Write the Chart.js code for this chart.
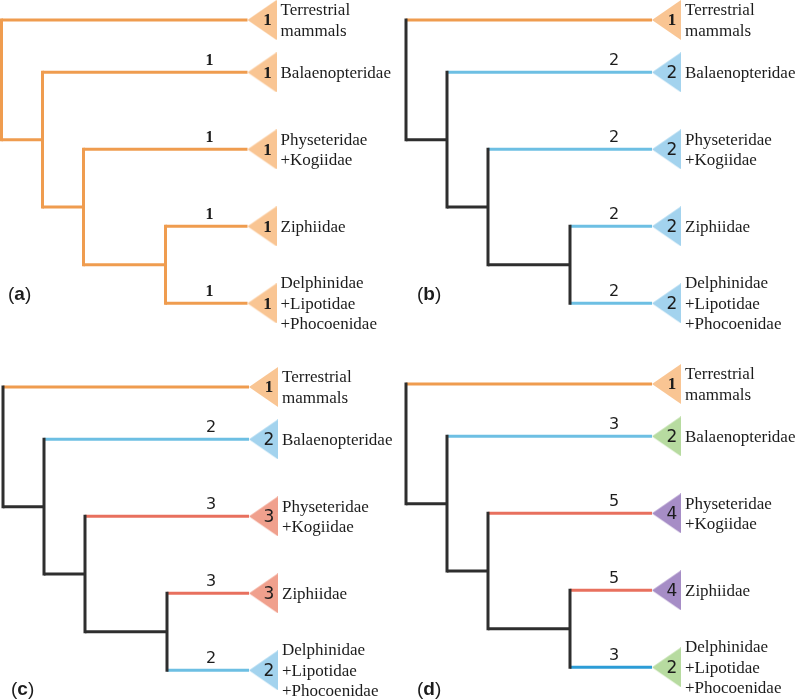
<!DOCTYPE html>
<html>
<head>
<meta charset="utf-8">
<script src="https://cdn.jsdelivr.net/npm/chart.js@4.4.1/dist/chart.umd.min.js"></script>
<style>
  body { margin: 0; background: #fff; }
  #wrap { position: relative; width: 800px; height: 699px; }
  #wrap canvas { position: absolute; }
</style>
</head>
<body>
<div id="wrap">
  <canvas id="pa" width="400" height="349" style="left:0;top:0"></canvas>
  <canvas id="pb" width="400" height="349" style="left:400px;top:0"></canvas>
  <canvas id="pc" width="400" height="350" style="left:0;top:349px"></canvas>
  <canvas id="pd" width="400" height="350" style="left:400px;top:349px"></canvas>
</div>
<script>
// --- data ---
const taxa = [
  ['Terrestrial', 'mammals'],
  ['Balaenopteridae'],
  ['Physeteridae', '+Kogiidae'],
  ['Ziphiidae'],
  ['Delphinidae', '+Lipotidae', '+Phocoenidae']
];
const leafPos   = [0, 0.68, 1.68, 2.68, 3.68];   // leaf rows
const leafDepth = 6;
// internal nodes (root first): depth and children (number = leaf, 'nK' = node K)
const nodeDepths   = [0, 1, 2, 4];
const nodeChildren = [[0, 'n1'], [1, 'n2'], [2, 'n3'], [3, 4]];

const panelTags    = ['a', 'b', 'c', 'd'];
const tipCounts    = [[1, 1, 1, 1, 1], [1, 2, 2, 2, 2], [1, 2, 3, 3, 2], [1, 2, 4, 4, 2]];
const branchLabels = [[null, 1, 1, 1, 1], [null, 2, 2, 2, 2], [null, 2, 3, 3, 2], [null, 3, 5, 5, 3]];

// colour states: o orange, b blue, r red, g green, p purple, k black
const edgeState  = [['o','o','o','o','o'], ['o','b','b','b','b'], ['o','b','r','r','b'], ['o','b','r','r','B']];
const tipState   = [['o','o','o','o','o'], ['o','b','b','b','b'], ['o','b','r','r','b'], ['o','g','p','p','g']];
const innerState = ['o', 'k', 'k', 'k'];

// --- styles / layout ---
const lineCol = { o: '#EF9C4F', b: '#6DBFE3', B: '#2C9CD6', r: '#E8705E', k: '#2E2E2E' };
const triCol  = { o: '#F9C593', b: '#A3D3EE', r: '#F0A08D', g: '#B7DBA0', p: '#A68DC6' };
const pxPerDepth = 41, pxPerRow = 77;
const rootPx = [1.5, 6, 3, 6];
const topPx  = [20, 20, 38, 35];
const tagXY  = [[8, 295], [17, 295], [11, 341], [17, 341]];
const ink = '#1c1c1c';

function triangleImage(fill) {
  const c = document.createElement('canvas');
  c.width = 58; c.height = 40;
  const g = c.getContext('2d');
  g.fillStyle = fill;
  g.beginPath();
  g.moveTo(29, 20); g.lineTo(58, 0); g.lineTo(58, 40);
  g.closePath(); g.fill();
  return c;
}
const triImg = {};
Object.keys(triCol).forEach(k => { triImg[k] = triangleImage(triCol[k]); });

function digitFont(n, size) {
  return n === 1 ? `bold ${size}px "Liberation Serif"` : `${size}px "DejaVu Sans"`;
}

function segment(points, colour, order, cap) {
  return {
    data: points, showLine: true, borderColor: colour, borderWidth: 3,
    borderCapStyle: cap || 'butt', pointRadius: 0, fill: false, clip: false, order: order
  };
}

function buildPanel(p, canvasId) {
  const nodeY = [];
  const isLeaf = c => typeof c === 'number';
  const yOf = c => isLeaf(c) ? leafPos[c] : nodeY[+c.slice(1)];
  const dOf = c => isLeaf(c) ? leafDepth : nodeDepths[+c.slice(1)];
  for (let k = nodeDepths.length - 1; k >= 0; k--) {
    const [a, b] = nodeChildren[k];
    nodeY[k] = (yOf(a) + yOf(b)) / 2;
  }

  const datasets = [];
  nodeChildren.forEach(([a, b], k) => {
    const d = nodeDepths[k];
    [a, b].forEach(c => {
      const st = isLeaf(c) ? edgeState[p][c] : innerState[p];
      datasets.push(segment([{x: d, y: yOf(c)}, {x: dOf(c), y: yOf(c)}], lineCol[st], 3));
    });
    datasets.push(segment([{x: d, y: yOf(a)}, {x: d, y: yOf(b)}], lineCol[innerState[p]], 2, 'square'));
  });
  // collapsed clades as triangles
  datasets.push({
    data: leafPos.map(v => ({x: leafDepth, y: v})),
    pointStyle: tipState[p].map(s => triImg[s]),
    pointRadius: 5, showLine: false, clip: false, order: 1
  });

  const canvas = document.getElementById(canvasId);
  const W = canvas.width, H = canvas.height;
  const xMin = -rootPx[p] / pxPerDepth;
  const yMin = -topPx[p] / pxPerRow;

  const treeText = {
    id: 'treeText',
    afterDatasetsDraw(chart) {
      const {ctx, scales: {x, y}} = chart;
      ctx.save();
      ctx.fillStyle = ink;
      ctx.textBaseline = 'middle';
      const tipX = x.getPixelForValue(leafDepth);
      taxa.forEach((lines, i) => {
        const ty = y.getPixelForValue(leafPos[i]);
        // count inside triangle
        const n = tipCounts[p][i];
        ctx.textAlign = 'center';
        ctx.font = digitFont(n, 17);
        ctx.fillText(String(n), tipX + 20, ty + 1);
        // branch label
        const bl = branchLabels[p][i];
        if (bl !== null) {
          ctx.font = digitFont(bl, 16);
          ctx.fillText(String(bl), tipX - 38, ty - 12);
        }
        // taxon name
        ctx.textAlign = 'left';
        ctx.font = '17px "Liberation Serif"';
        const lh = 20.5;
        const y0 = ty - (lines.length - 1) * lh / 2;
        lines.forEach((t, j) => ctx.fillText(t, tipX + 33, y0 + j * lh + 1));
      });
      // panel tag "(a)"
      let [tx, tyy] = tagXY[p];
      ctx.textAlign = 'left';
      const parts = [['(', '19px "Liberation Sans"'], [panelTags[p], 'bold 19px "Liberation Sans"'], [')', '19px "Liberation Sans"']];
      parts.forEach(([t, f]) => {
        ctx.font = f;
        ctx.fillText(t, tx, tyy);
        tx += ctx.measureText(t).width;
      });
      ctx.restore();
    }
  };

  return new Chart(canvas, {
    type: 'scatter',
    data: { datasets },
    options: {
      responsive: false,
      animation: false,
      events: [],
      layout: { padding: 0, autoPadding: false },
      plugins: { legend: { display: false }, tooltip: { enabled: false } },
      scales: {
        x: { type: 'linear', display: false, min: xMin, max: xMin + W / pxPerDepth },
        y: { type: 'linear', display: false, reverse: true, min: yMin, max: yMin + H / pxPerRow }
      }
    },
    plugins: [treeText]
  });
}

buildPanel(0, 'pa');
buildPanel(1, 'pb');
buildPanel(2, 'pc');
buildPanel(3, 'pd');
</script>
</body>
</html>
